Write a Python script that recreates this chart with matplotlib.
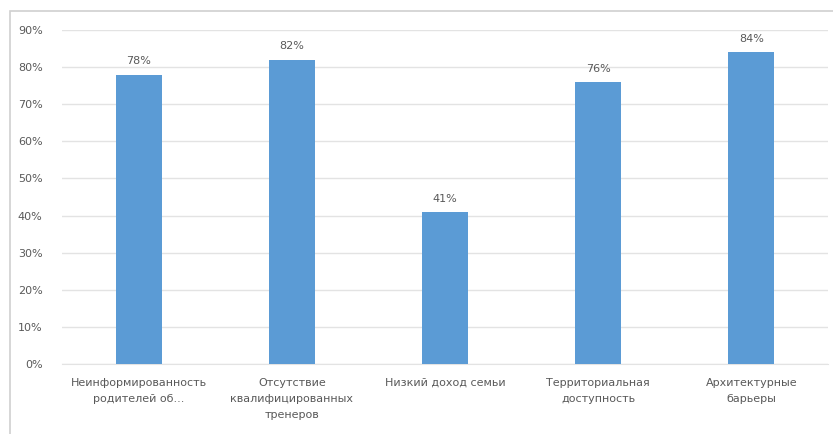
import numpy as np
import matplotlib.pyplot as plt
from matplotlib.patches import Rectangle
from matplotlib.ticker import PercentFormatter

# причины, препятствующие занятиям спортом
categories = [
    "Неинформированность\nродителей об...",
    "Отсутствие\nквалифицированных\nтренеров",
    "Низкий доход семьи",
    "Территориальная\nдоступность",
    "Архитектурные\nбарьеры",
]
values = [78, 82, 41, 76, 84]

text_color = '#595959'
bar_color = '#5B9BD5'
grid_color = '#E3E3E3'

fig = plt.figure(figsize=(8.33, 4.34), dpi=100)
ax = fig.add_axes([62 / 833, 1 - 364 / 434, (828 - 62) / 833, (364 - 30) / 434])

# рамка вокруг диаграммы
fig.patches.append(Rectangle((10 / 833, -0.1), 1.0, 1 - 11 / 434 + 0.1,
                             transform=fig.transFigure, fill=False,
                             edgecolor='#D0D0D0', linewidth=1.2))

x = np.arange(len(categories))
bars = ax.bar(x, values, width=0.3, color=bar_color, zorder=3)

for b, v in zip(bars, values):
    ax.annotate(f'{v}%', (b.get_x() + b.get_width() / 2, v),
                xytext=(0, 6), textcoords='offset points',
                ha='center', va='bottom', fontsize=8, color=text_color)

ax.set_xlim(-0.5, len(categories) - 0.5)
ax.set_ylim(0, 90)
ax.set_yticks(np.arange(0, 91, 10))
ax.yaxis.set_major_formatter(PercentFormatter(decimals=0))
ax.set_xticks(x)
ax.set_xticklabels(categories, fontsize=8, color=text_color, linespacing=1.75)
ax.tick_params(axis='y', labelsize=8, colors=text_color, length=0, pad=14)
ax.tick_params(axis='x', length=0, pad=10)

ax.grid(axis='y', color=grid_color, linewidth=1, zorder=0)
for s in ['top', 'right', 'left']:
    ax.spines[s].set_visible(False)
ax.spines['bottom'].set_color(grid_color)

fig.savefig('out.png', dpi=100)
